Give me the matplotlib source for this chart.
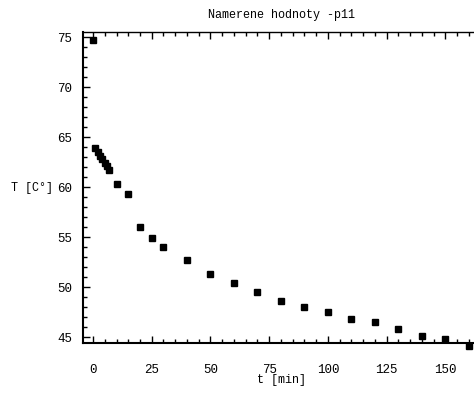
import matplotlib
matplotlib.use("Agg")
import matplotlib.pyplot as plt
from matplotlib.ticker import MultipleLocator

# measured values
t_min = [0, 1, 2, 3, 4, 5, 6, 7, 10, 15, 20, 25, 30, 40, 50, 60, 70, 80,
         90, 100, 110, 120, 130, 140, 150, 160]
T_deg = [74.7, 63.9, 63.5, 63.1, 62.8, 62.4, 62.1, 61.7, 60.3, 59.3, 56.0, 54.9,
         54.0, 52.7, 51.3, 50.4, 49.5, 48.6, 48.0, 47.5, 46.8, 46.5, 45.8, 45.1,
         44.8, 44.1]

title = "Namerene hodnoty -p11"
xlabel = "t [min]"
ylabel = "T [C°]"

mono = ["Liberation Mono", "DejaVu Sans Mono"]

fig = plt.figure(figsize=(4.74, 3.93), dpi=100)
ax = fig.add_axes([83/474, 50/393, 397/474, 311/393])

ax.plot(t_min, T_deg, linestyle="none", marker="s", markersize=5,
        color="black", clip_on=False)

ax.set_xlim(-4.26, 164.7)
ax.set_ylim(44.4, 75.5)

ax.xaxis.set_major_locator(MultipleLocator(25))
ax.xaxis.set_minor_locator(MultipleLocator(5))
ax.yaxis.set_major_locator(MultipleLocator(5))
ax.yaxis.set_minor_locator(MultipleLocator(1))

ax.tick_params(which="both", direction="in", top=True, right=False,
               color="black", width=1)
ax.tick_params(which="major", length=5)
ax.tick_params(which="minor", length=3)
ax.tick_params(axis="x", which="major", pad=15)
ax.tick_params(axis="y", which="major", pad=8)

for lab in ax.get_xticklabels() + ax.get_yticklabels():
    lab.set_fontfamily(mono)
    lab.set_fontsize(9)

ax.spines["left"].set_linewidth(1.5)
ax.spines["bottom"].set_linewidth(1.5)
ax.spines["top"].set_linewidth(1)
ax.spines["right"].set_visible(False)

ax.set_title(title, family=mono, fontsize=8.5, pad=10)
ax.set_xlabel(xlabel, family=mono, fontsize=8.5, labelpad=-1)
ax.set_ylabel(ylabel, family=mono, fontsize=8.5, rotation=0, labelpad=18,
              va="center")

fig.savefig("out.png", dpi=100)
